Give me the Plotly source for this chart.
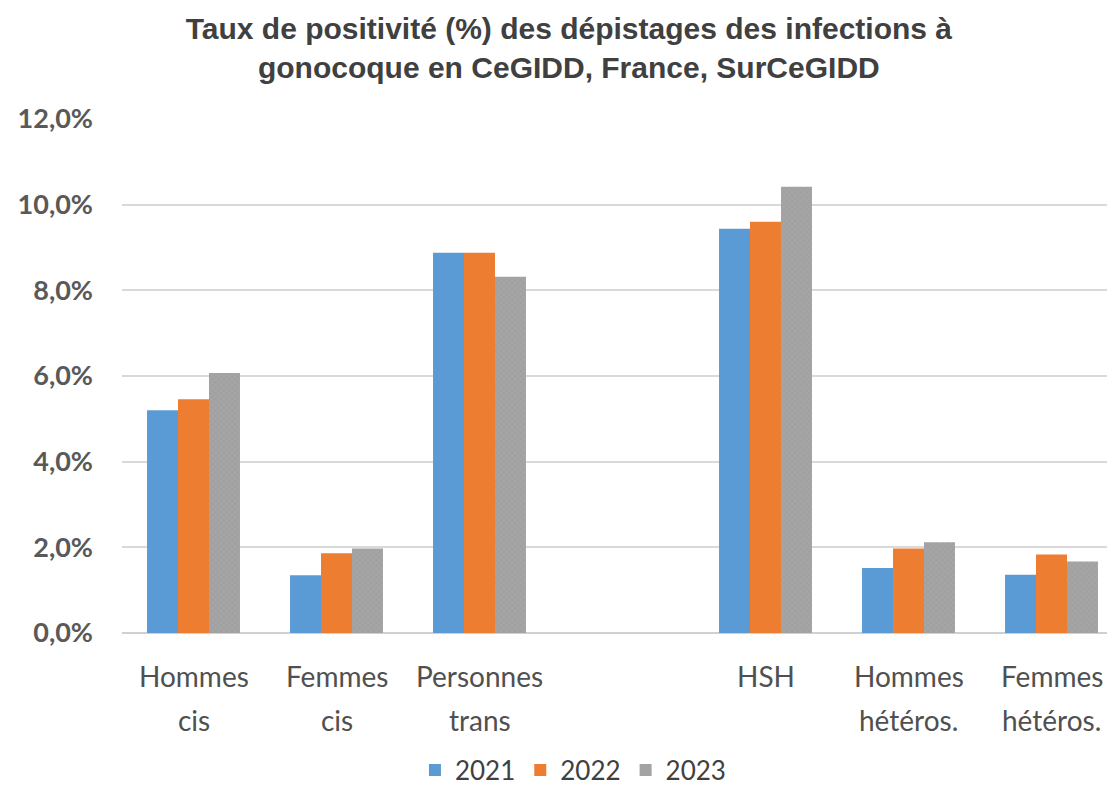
import plotly.graph_objects as go

categories = ["Hommes cis", "Femmes cis", "Personnes trans", "", "HSH", "Hommes hétéros.", "Femmes hétéros."]
label_line1 = ["Hommes", "Femmes", "Personnes", "", "HSH", "Hommes", "Femmes"]
label_line2 = ["cis", "cis", "trans", "", "", "hétéros.", "hétéros."]
years = ["2021", "2022", "2023"]
v2021 = [5.20, 1.35, 8.88, None, 9.44, 1.52, 1.36]
v2022 = [5.46, 1.86, 8.88, None, 9.60, 1.97, 1.83]
v2023 = [6.07, 1.97, 8.32, None, 10.42, 2.12, 1.67]
tick_vals = [0, 2, 4, 6, 8, 10, 12]
tick_text = ["0,0%", "2,0%", "4,0%", "6,0%", "8,0%", "10,0%", "12,0%"]
title_text = "<b>Taux de positivité (%) des dépistages des infections à<br>gonocoque en CeGIDD, France, SurCeGIDD</b>"

colors = ["#5B9BD5", "#ED7D31", "#A5A5A5"]
cat_ids = [c if c else " " for c in categories]

fig = go.Figure()
for name, vals, col in zip(years, [v2021, v2022, v2023], colors):
    marker = dict(color=col, line=dict(width=0))
    if name == "2023":
        marker["pattern"] = dict(shape="x", size=4, solidity=0.25, fgcolor="#8f8f8f", bgcolor=col)
    fig.add_trace(go.Bar(x=cat_ids, y=vals, name=name, marker=marker))

# plot area spans page rows 119 (12 %) to 633 (0 %)
PLOT_TOP, PLOT_BOTTOM = 119, 633
lab_font = dict(family="Lato, Open Sans, sans-serif", size=28, color="#505050")
annotations = []
for cid, l1, l2 in zip(cat_ids, label_line1, label_line2):
    for txt, row in ((l1, 676), (l2, 720)):
        if txt:
            annotations.append(dict(x=cid, xref="x", yref="paper",
                                    y=(PLOT_BOTTOM - row) / (PLOT_BOTTOM - PLOT_TOP),
                                    yanchor="middle", text=txt, showarrow=False, font=lab_font))

fig.update_layout(
    width=1115, height=805,
    paper_bgcolor="white", plot_bgcolor="white",
    margin=dict(l=114, r=0, t=111, b=180),
    barmode="group", bargap=0.35, bargroupgap=0,
    title=dict(text=title_text, x=0.503, xref="container", xanchor="center",
               y=0.962, yref="container", yanchor="top",
               font=dict(family="Liberation Sans, Arial, sans-serif", size=30, color="#404040")),
    xaxis=dict(type="category", categoryorder="array", categoryarray=cat_ids,
               range=[-0.5, 6.5], showticklabels=False, showgrid=False, zeroline=False,
               showline=False),
    yaxis=dict(range=[0, 12], tickvals=tick_vals, ticktext=tick_text, showgrid=True,
               gridcolor="#d9d9d9", gridwidth=2, zeroline=True, zerolinecolor="#d0d0d0",
               zerolinewidth=2, showline=False, ticks="", ticklabelstandoff=28,
               tickfont=dict(family="Lato, Open Sans, sans-serif", size=27, color="#595959", weight="bold")),
    legend=dict(orientation="h", x=0.4505, xanchor="center", y=-0.2665, yanchor="middle",
                font=dict(family="Lato, Open Sans, sans-serif", size=26, color="#404040"),
                itemwidth=30, traceorder="normal"),
    annotations=annotations,
    showlegend=True,
)

fig.write_html("out.html")
